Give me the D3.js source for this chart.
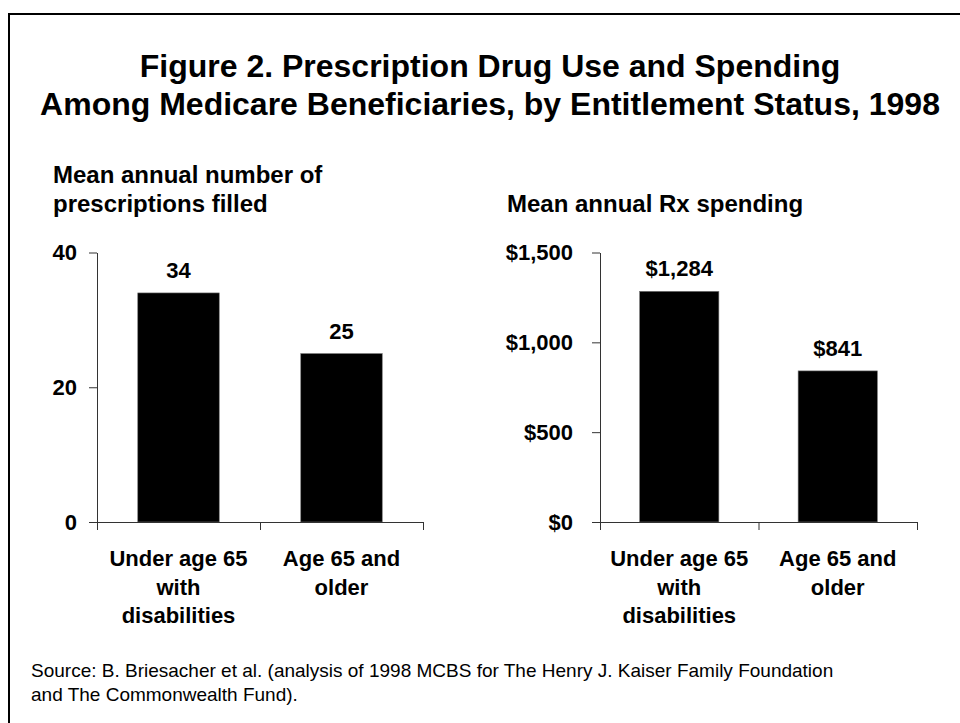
<!DOCTYPE html>
<html>
<head>
<meta charset="utf-8">
<script src="https://cdn.jsdelivr.net/npm/d3@7"></script>
<style>
  html, body { margin: 0; padding: 0; background: #fff; }
  svg { display: block; font-family: "Liberation Sans", Arial, sans-serif; }
</style>
</head>
<body>
<svg id="chart" width="960" height="723"></svg>
<script>
// ---- data ----
const titleLines = ["Figure 2. Prescription Drug Use and Spending",
                    "Among Medicare Beneficiaries, by Entitlement Status, 1998"];
const categories = ["Under age 65 with disabilities", "Age 65 and older"];
const categoryLines = [["Under age 65", "with", "disabilities"], ["Age 65 and", "older"]];
const rxCounts = [34, 25];
const rxSpending = [1284, 841];
const countTicks = [0, 20, 40];
const spendTicks = [0, 500, 1000, 1500];
const countSubtitle = ["Mean annual number of", "prescriptions filled"];
const spendSubtitle = ["Mean annual Rx spending"];
const sourceLines = ["Source: B. Briesacher et al. (analysis of 1998 MCBS for The Henry J. Kaiser Family Foundation",
                     "and The Commonwealth Fund)."];

const svg = d3.select("#chart");

// frame
svg.append("rect").attr("x", 9).attr("y", 14).attr("width", 1000).attr("height", 800)
  .attr("fill", "none").attr("stroke", "#000").attr("stroke-width", 2);

// title
svg.append("g").selectAll("text").data(titleLines).join("text")
  .attr("x", 490).attr("y", (d, i) => 77 + i * 38)
  .attr("text-anchor", "middle").attr("font-size", 32).attr("font-weight", "bold")
  .attr("fill", "#000").text(d => d);

function panel(opts) {
  const g = svg.append("g");
  const x = d3.scaleBand().domain(categories).range([opts.x0, opts.x1]).paddingInner(0.5).paddingOuter(0.25);
  const y = d3.scaleLinear().domain([0, opts.max]).range([opts.yBase, opts.yTop]);

  // subtitle
  g.append("g").selectAll("text").data(opts.subtitle).join("text")
    .attr("x", opts.subX).attr("y", (d, i) => opts.subY + i * 29)
    .attr("font-size", 24).attr("font-weight", "bold").attr("fill", "#000").text(d => d);

  // bars
  g.append("g").selectAll("rect").data(opts.values).join("rect")
    .attr("x", (d, i) => x(categories[i])).attr("width", x.bandwidth())
    .attr("y", d => y(d)).attr("height", d => y(0) - y(d))
    .attr("fill", "#000").attr("stroke", "#777").attr("stroke-width", 0.6);

  // value labels
  g.append("g").selectAll("text").data(opts.values).join("text")
    .attr("x", (d, i) => x(categories[i]) + x.bandwidth() / 2).attr("y", d => y(d) - 15)
    .attr("text-anchor", "middle").attr("font-size", 22).attr("font-weight", "bold")
    .attr("fill", "#000").text(opts.fmt);

  // y axis
  const ya = g.append("g").attr("transform", `translate(${opts.x0},0)`)
    .call(d3.axisLeft(y).tickValues(opts.ticks).tickSize(8).tickSizeOuter(0).tickPadding(opts.tickPad).tickFormat(opts.fmt));
  ya.selectAll("text").attr("font-size", 22).attr("font-weight", "bold").attr("fill", "#000")
    .attr("font-family", "'Liberation Sans', Arial, sans-serif");
  ya.selectAll("line, path").attr("stroke", "#333");

  // x axis with ticks at band edges
  const edge = d3.scaleLinear().domain([0, categories.length]).range([opts.x0, opts.x1]);
  const xa = g.append("g").attr("transform", `translate(0,${opts.yBase})`)
    .call(d3.axisBottom(edge).tickValues(d3.range(categories.length + 1)).tickSize(8).tickSizeOuter(0).tickFormat(""));
  xa.selectAll("line, path").attr("stroke", "#333");

  // category labels
  const lab = g.append("g").selectAll("text").data(categories).join("text")
    .attr("x", d => x(d) + x.bandwidth() / 2).attr("y", opts.yBase + 44)
    .attr("text-anchor", "middle").attr("font-size", 22).attr("font-weight", "bold").attr("fill", "#000");
  lab.each(function(d, i) {
    d3.select(this).selectAll("tspan").data(categoryLines[i]).join("tspan")
      .attr("x", x(d) + x.bandwidth() / 2).attr("dy", (t, j) => j === 0 ? 0 : 28.5).text(t => t);
  });
}

panel({ x0: 97, x1: 423, yBase: 522, yTop: 252.5, max: 40, ticks: countTicks, tickPad: 12,
        values: rxCounts, fmt: d3.format("d"), subtitle: countSubtitle, subX: 53, subY: 183 });
panel({ x0: 600, x1: 917, yBase: 522, yTop: 252.5, max: 1500, ticks: spendTicks, tickPad: 19,
        values: rxSpending, fmt: d => "$" + d3.format(",")(d), subtitle: spendSubtitle, subX: 507, subY: 212 });

// source
svg.append("g").selectAll("text").data(sourceLines).join("text")
  .attr("x", 31).attr("y", (d, i) => 677 + i * 24)
  .attr("font-size", 19).attr("fill", "#000").text(d => d);
</script>
</body>
</html>
